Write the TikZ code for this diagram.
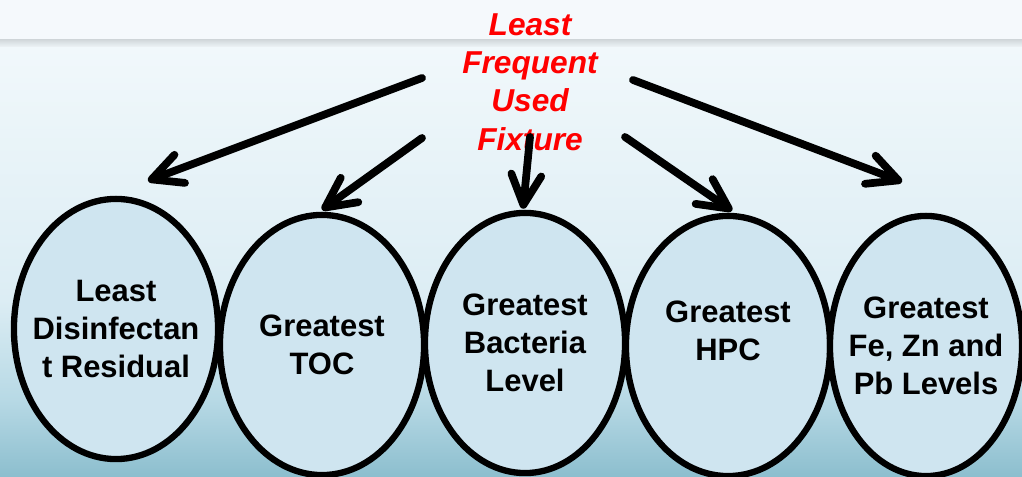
\documentclass[tikz,border=0pt]{standalone}
\usepackage{fontspec}
\setmainfont{Liberation Sans}
\usepackage{xcolor}
\usetikzlibrary{arrows.meta,positioning,shapes.geometric,calc}
\definecolor{fxband}{HTML}{F5F9FC}
\definecolor{fxrule}{HTML}{D3D9DC}
\definecolor{fxbgtop}{HTML}{F1F8FB}
\definecolor{fxbgmid}{HTML}{DCEDF4}
\definecolor{fxbglow}{HTML}{B7D9E5}
\definecolor{fxbgbot}{HTML}{8CBECE}
\definecolor{fxfill}{HTML}{CFE5F0}
\definecolor{fxred}{HTML}{FF0000}
\tikzset{
fxbubble/.style={ellipse,draw=black,line width=1.8pt,fill=fxfill,align=center,inner xsep=-0.3cm,inner ysep=0pt,minimum width=2.04cm,minimum height=2.6cm,font=\fontsize{8.8}{10.8}\selectfont\bfseries},
fxsource/.style={align=center,text=fxred,inner sep=0pt,font=\fontsize{9}{10.9}\selectfont\bfseries\itshape},
fxarr/.style={-{Straight Barb[length=3mm,width=3mm,round]},line width=2.2pt,line cap=round,black}
}

\begin{document}
\begin{tikzpicture}[
x=0.01cm,
y=-0.01cm
]
\useasboundingbox (0,0) rectangle (1022,477);
% slide background
\fill[fxband] (0,0) rectangle (1022,40);
\shade[top color=fxrule,bottom color=fxbgtop] (0,40) rectangle (1022,48);
\shade[top color=fxbgtop,bottom color=fxbgmid] (0,48) rectangle (1022,300);
\shade[top color=fxbgmid,bottom color=fxbglow] (0,300) rectangle (1022,400);
\shade[top color=fxbglow,bottom color=fxbgbot] (0,400) rectangle (1022,477);
% outcomes
\node[fxbubble] (residual) at (116,329) {Least\\Disinfectan\\t Residual};
\node[fxbubble] (toc) at (322,345) {Greatest\\TOC};
\node[fxbubble,minimum width=2.0cm] (bacteria) at (525,343) {Greatest\\Bacteria\\Level};
\node[fxbubble,text depth=0.3cm] (hpc) at (728,346) {Greatest\\HPC};
\node[fxbubble,minimum width=1.92cm] (metals) at (926,346) {Greatest\\Fe, Zn and\\Pb Levels};
% source
\node[fxsource] (fixture) at (530,82) {Least\\Frequent\\Used\\Fixture};
\coordinate (src1) at ([shift={(-108,-4)}]fixture.center);
\coordinate (src2) at ([shift={(-108,56)}]fixture.center);
\coordinate (src3) at ([shift={(0,55)}]fixture.center);
\coordinate (src4) at ([shift={(95,55)}]fixture.center);
\coordinate (src5) at ([shift={(103,-2)}]fixture.center);
\coordinate (tip1) at ([shift={(32,-15)}]residual.north);
\coordinate (tip2) at ([shift={(0,-2)}]toc.north);
\coordinate (tip3) at ([shift={(-2,-1)}]bacteria.north);
\coordinate (tip4) at ([shift={(4,-2)}]hpc.north);
\coordinate (tip5) at ([shift={(-24,-31)}]metals.north);
\draw[fxarr] (src1)--(tip1);
\draw[fxarr] (src2)--(tip2);
\draw[fxarr] (src3)--(tip3);
\draw[fxarr] (src4)--(tip4);
\draw[fxarr] (src5)--(tip5);
\end{tikzpicture}
\end{document}
